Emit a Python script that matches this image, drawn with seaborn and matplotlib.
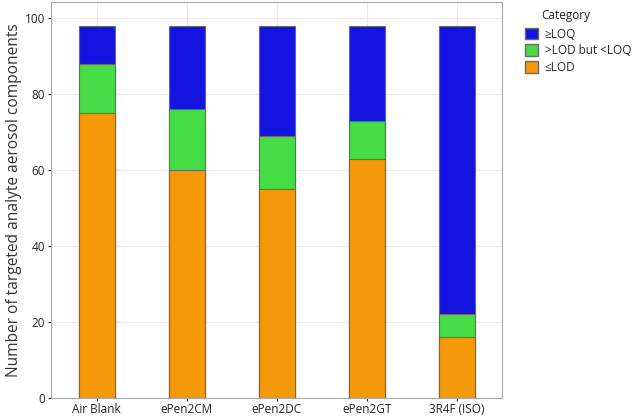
import pandas as pd
import seaborn as sns
import matplotlib.pyplot as plt
from matplotlib.patches import Patch

# Data
samples = ['Air Blank', 'ePen2CM', 'ePen2DC', 'ePen2GT', '3R4F (ISO)']
below_lod = [75, 60, 55, 63, 16]
lod_to_loq = [13, 16, 14, 10, 6]
above_loq = [10, 22, 29, 25, 76]

colors = {'≥LOQ': '#1414e0', '>LOD but <LOQ': '#46dc46', '≤LOD': '#f5980a'}

df = pd.DataFrame({'Sample': samples, 'lod': below_lod, 'mid': lod_to_loq, 'loq': above_loq})
df['c1'] = df['lod']
df['c2'] = df['lod'] + df['mid']
df['c3'] = df['c2'] + df['loq']

sns.set_style('white')
plt.rcParams['font.family'] = ['Open Sans', 'DejaVu Sans']

fig = plt.figure(figsize=(6.36, 4.18), dpi=100)
ax = fig.add_axes([0.080, 0.048, 0.709, 0.947])

# draw tallest first so the stacks overlap correctly
for col, lab in [('c3', '≥LOQ'), ('c2', '>LOD but <LOQ'), ('c1', '≤LOD')]:
    sns.barplot(data=df, x='Sample', y=col, color=colors[lab], width=0.4,
                edgecolor='#6a6a6a', linewidth=0.8, saturation=1, ax=ax)

ax.set_xlim(-0.51, 4.5)
ax.set_ylim(0, 104.2)
ax.set_yticks([0, 20, 40, 60, 80, 100])
ax.yaxis.grid(True, color='#ebebeb', linewidth=0.8)
ax.xaxis.grid(True, color='#ebebeb', linewidth=0.8)
ax.set_axisbelow(True)
ax.set_xlabel('')
ax.set_ylabel('Number of targeted analyte aerosol components', fontsize=11.2, color='#333333', labelpad=2)
ax.tick_params(axis='both', labelsize=8.5, colors='#222222', length=2.5, pad=1.5,
               direction='out', left=True, bottom=True)
for s in ax.spines.values():
    s.set_color('#aaaaaa')
    s.set_linewidth(0.8)

handles = [Patch(facecolor=colors[k], edgecolor='#6a6a6a', label=k) for k in colors]
fig.legend(handles=handles, loc='upper left', bbox_to_anchor=(514 / 636, 1 - 17 / 418),
           frameon=False, fontsize=8.5, handlelength=1.1, handleheight=1.15,
           handletextpad=0.6, labelspacing=0.3)
fig.text(541 / 636, 1 - 16 / 418, 'Category', fontsize=8.5, color='#222222', va='center', ha='left')

fig.savefig('out.png', dpi=100)
